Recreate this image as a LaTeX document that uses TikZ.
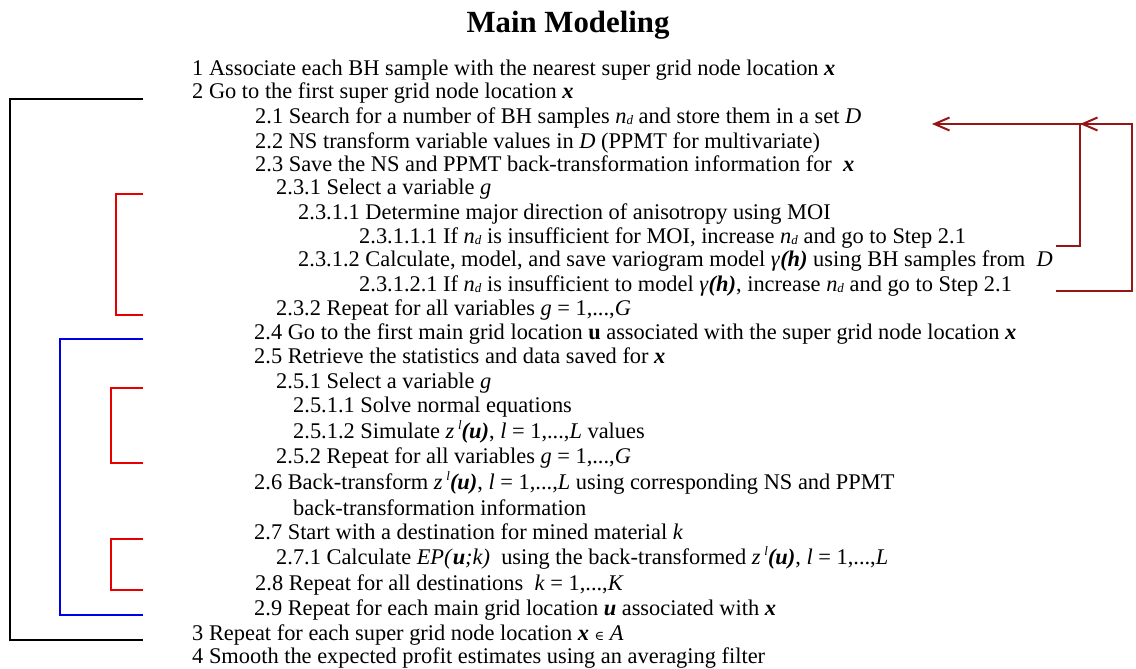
\documentclass[tikz,border=0pt]{standalone}
\usepackage{fontspec}
\setmainfont{Liberation Serif}
\newfontfamily\djv{DejaVu Serif}
\usetikzlibrary{arrows.meta}
\definecolor{arrred}{RGB}{150,22,22}
\definecolor{brred}{RGB}{232,0,0}
\definecolor{brblue}{RGB}{0,0,232}
\newcommand\vx{\textbf{\textit{x}}}
\newcommand\vu{\textbf{\textit{u}}}
\newcommand\myn{\textit{n}\raisebox{-1pt}{\fontsize{13}{13}\selectfont\textit{d}}}
\newcommand\zlu{\textit{z}\,\raisebox{9pt}{\fontsize{13}{13}\selectfont\textit{l}}\textbf{\textit{(u)}}}
\newcommand\gam{\textit{γ}\textbf{\textit{(h)}}}
\begin{document}
\begin{tikzpicture}[x=1pt,y=-1pt,
  t/.style={anchor=base west, inner sep=0pt, font=\fontsize{22.4}{26}\selectfont},
  blkbr/.style={draw=black, line width=2pt},
  redbr/.style={draw=brred, line width=1.8pt},
  bluebr/.style={draw=brblue, line width=1.8pt},
  loop/.style={draw=arrred, line width=2pt},
  tip/.style={-{Straight Barb[length=15pt,width=13pt,line width=2pt]}}]
\useasboundingbox (0,0) rectangle (1136,669);
\fill[white] (0,0) rectangle (1136,669);
\node[anchor=base, inner sep=0pt, font=\fontsize{30.8}{36}\selectfont\bfseries] (title) at (568,33) {Main Modeling};
\node[t] (l1) at (192,76) {1 Associate each BH sample with the nearest super grid node location \vx};
\node[t] (l2) at (192,99) {2 Go to the first super grid node location \vx};
\node[t] (l21) at (255,124) {2.1 Search for a number of BH samples \myn\ and store them in a set \textit{D}};
\node[t] (l22) at (255,148) {2.2 NS transform variable values in \textit{D} (PPMT for multivariate)};
\node[t] (l23) at (255,171) {2.3 Save the NS and PPMT back-transformation information for \ \vx};
\node[t] (l231) at (276,194) {2.3.1 Select a variable \textit{g}};
\node[t] (l2311) at (298,219) {2.3.1.1 Determine major direction of anisotropy using MOI};
\node[t] (l23111) at (359,243) {2.3.1.1.1 If \myn\ is insufficient for MOI, increase \myn\ and go to Step 2.1};
\node[t] (l2312) at (298,266) {2.3.1.2 Calculate, model, and save variogram model \gam\ using BH samples from \ \textit{D}};
\node[t] (l23121) at (359,291) {2.3.1.2.1 If \myn\ is insufficient to model \gam, increase \myn\ and go to Step 2.1};
\node[t] (l232) at (276,315) {2.3.2 Repeat for all variables \textit{g} = 1,...,\textit{G}};
\node[t] (l24) at (254,339) {2.4 Go to the first main grid location \textbf{u} associated with the super grid node location \vx};
\node[t] (l25) at (254,363) {2.5 Retrieve the statistics and data saved for \vx};
\node[t] (l251) at (276,388) {2.5.1 Select a variable \textit{g}};
\node[t] (l2511) at (293,412) {2.5.1.1 Solve normal equations};
\node[t] (l2512) at (293,438) {2.5.1.2 Simulate \zlu, \textit{l} = 1,...,\textit{L} values};
\node[t] (l252) at (276,463) {2.5.2 Repeat for all variables \textit{g} = 1,...,\textit{G}};
\node[t] (l26) at (254,489) {2.6 Back-transform \zlu, \textit{l} = 1,...,\textit{L} using corresponding NS and PPMT};
\node[t] (l26b) at (293,515) {back-transformation information};
\node[t] (l27) at (254,539) {2.7 Start with a destination for mined material \textit{k}};
\node[t] (l271) at (276,564) {2.7.1 Calculate \textit{EP(}\vu\textit{;k)} \ using the back-transformed \zlu, \textit{l} = 1,...,\textit{L}};
\node[t] (l28) at (255,590) {2.8 Repeat for all destinations \ \textit{k} = 1,...,\textit{K}};
\node[t] (l29) at (254,615) {2.9 Repeat for each main grid location \vu\ associated with \vx};
\node[t] (l3) at (192,640) {3 Repeat for each super grid node location \vx\ {\djv\fontsize{13}{13}\selectfont ∈} \textit{A}};
\node[t] (l4) at (192,663) {4 Smooth the expected profit estimates using an averaging filter};
% bracket reference columns
\coordinate (xr) at (143,0);
\coordinate (xblack) at (10,0);
\coordinate (xblue) at (60,0);
\coordinate (xred1) at (116,0);
\coordinate (xred2) at (111,0);
% brackets
\draw[blkbr] (l2.base -| xr) -- (l2.base -| xblack) -- (l3.base -| xblack) -- (l3.base -| xr);
\draw[redbr] (l231.base -| xr) -- (l231.base -| xred1) -- (l232.base -| xred1) -- (l232.base -| xr);
\draw[bluebr] (l24.base -| xr) -- (l24.base -| xblue) -- (l29.base -| xblue) -- (l29.base -| xr);
\draw[redbr] (l251.base -| xr) -- (l251.base -| xred2) -- (l252.base -| xred2) -- (l252.base -| xr);
\draw[redbr] (l27.base -| xr) -- (l27.base -| xred2) -- (l28.base -| xred2) -- (l28.base -| xr);
% loop-back arrows
\coordinate (xs) at (1056,0);
\coordinate (xin) at (1080,0);
\coordinate (xout) at (1132,0);
\coordinate (xtip) at (932,0);
\coordinate (a1) at ([yshift=-3pt]l23111.base);
\draw[loop] (a1 -| xs) -- (a1 -| xin) -- (l21.base -| xin);
\draw[loop, tip] (l23121.base -| xs) -- (l23121.base -| xout) -- (l21.base -| xout) -- (l21.base -| xtip);
\draw[loop, tip] ([xshift=1pt]l21.base -| xin) -- (l21.base -| xin);
\end{tikzpicture}
\end{document}
